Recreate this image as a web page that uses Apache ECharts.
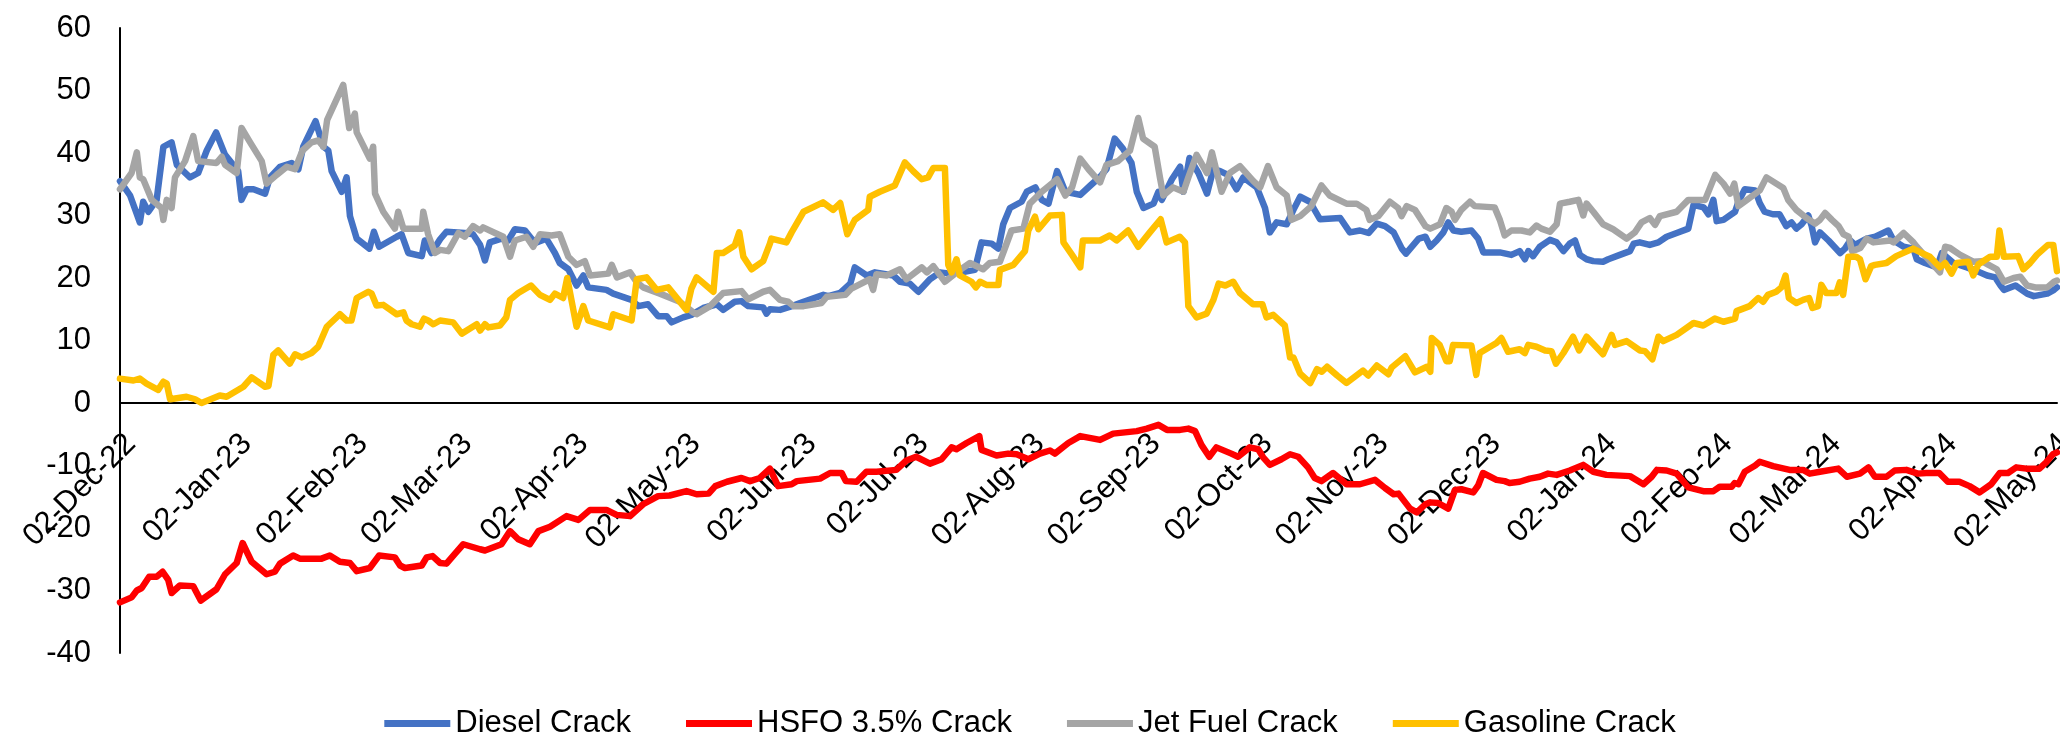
<!DOCTYPE html>
<html>
<head>
<meta charset="utf-8">
<script src="https://cdn.jsdelivr.net/npm/echarts@6.0.0/dist/echarts.min.js"></script>
<style>
html,body{margin:0;padding:0;background:#fff;}
#chart{width:2060px;height:734px;}
</style>
</head>
<body>
<div id="chart"></div>
<script>
// Day offsets counted from 02-Dec-22
const tickDays = [0,31,62,90,121,151,182,212,243,274,304,335,365,396,427,456,487,517];
const tickLabels = ['02-Dec-22','02-Jan-23','02-Feb-23','02-Mar-23','02-Apr-23','02-May-23','02-Jun-23','02-Jul-23','02-Aug-23','02-Sep-23','02-Oct-23','02-Nov-23','02-Dec-23','02-Jan-24','02-Feb-24','02-Mar-24','02-Apr-24','02-May-24'];
const lastDay = 518;

const dieselDays = [0,2.7,5.3,6.2,7.6,9.8,11.6,13.8,15.2,18.7,20.9,23.2,25.7,28.1,31.6,32.5,33.9,35.7,38.8,40.1,42.8,45.9,47.7,49.0,52.3,54.4,55.7,56.6,59.3,60.6,61.5,63.3,66.7,67.9,69.3,74.0,75.3,77.1,80.7,81.5,83.3,85.6,
87.3,92.2,94.4,96.3,97.6,98.9,102.0,103.8,105.6,108.3,110.0,111.4,114.0,116.3,117.6,119.9,122.1,123.9,125.2,130.1,131.9,136.8,138.6,141.2,143.9,146.2,147.5,150.6,152.8,156.0,159.6,161.3,164.4,166.2,168.0,172.0,172.9,173.8,
176.5,179.7,182.8,188.1,189.4,192.6,195.3,196.5,199.7,201.9,206.8,208.6,211.2,213.5,216.6,219.3,221.9,225.1,228.6,230.4,233.1,234.9,236.2,238.0,241.1,242.5,244.8,246.5,248.3,250.6,252.8,256.8,259.5,262.1,
263.8,266.0,268.2,270.5,271.9,273.7,276.4,277.7,278.6,281.3,283.5,284.4,286.0,288.4,290.7,292.4,294.2,296.3,298.6,300.4,304.0,306.2,307.5,309.3,312.0,313.8,315.6,318.2,320.9,326.3,328.9,331.6,333.9,336.1,338.3,340.6,342.8,343.9,347.3,349.1,350.4,
352.1,353.9,355.2,356.6,358.7,361.4,363.2,364.6,369.0,372.1,374.3,375.7,376.6,377.9,379.7,382.4,384.2,386.0,387.7,389.1,390.4,392.2,394.0,396.6,398.0,401.1,403.8,404.8,406.4,409.1,411.4,413.6,416.3,419.4,420.8,423.5,424.8,426.1,427.0,428.8,431.9,432.8,434.5,437.3,438.5,
439.8,442.0,443.8,445.6,447.0,448.3,449.7,451.5,452.4,453.3,454.6,456.9,460.0,461.3,462.7,464.0,467.1,469.4,472.9,474.3,477.0,479.6,480.5,482.7,485.9,487.2,490.3,493.9,496.6,499.3,501.5,502.9,503.8,506.9,510.0,511.8,515.4,517.2,518];
const dieselVals = [35.5,33.2,28.9,32.2,30.6,32.5,41.0,41.7,38.1,36.1,36.8,40.4,43.3,39.7,37.1,32.5,34.2,34.2,33.5,36.1,37.8,38.4,37.4,41.0,45.1,41.0,40.4,37.1,33.8,36.1,29.9,26.3,24.7,27.4,25.0,26.6,27.0,24.0,23.5,26.0,24.0,26.2,
27.4,27.2,27.0,25.3,22.8,25.7,26.3,26.0,27.8,27.6,26.3,25.7,26.3,24.0,22.4,21.4,18.8,20.4,18.5,18.1,17.5,16.5,15.5,15.8,13.9,13.9,12.9,13.7,14.1,15.2,15.8,14.9,16.2,16.3,15.5,15.3,14.3,15.0,
14.9,15.5,16.2,17.3,17.1,17.6,19.1,21.7,20.4,20.9,20.4,19.4,19.1,17.8,19.8,20.9,20.7,20.9,21.3,25.7,25.5,24.7,28.6,31.2,32.2,33.8,34.5,32.5,31.9,37.1,33.8,33.3,34.8,36.2,
37.4,42.3,40.7,38.4,33.8,31.2,31.9,33.8,32.5,35.8,37.8,33.8,39.2,36.8,33.5,37.4,37.1,36.5,34.2,36.1,34.5,31.2,27.3,28.9,28.6,30.9,33.0,32.2,29.4,29.6,27.3,27.6,27.2,28.7,28.3,27.3,24.7,23.9,26.3,26.6,25.0,
26.0,27.3,28.9,27.6,27.4,27.6,26.3,24.1,24.1,23.7,24.3,23.0,24.3,23.5,25.0,26.1,25.7,24.3,25.5,26.0,23.7,23.0,22.7,22.6,23.0,23.7,24.3,25.5,25.7,25.3,25.7,26.6,27.2,27.9,31.7,31.3,30.2,32.5,29.1,29.3,30.6,32.2,34.2,34.0,32.0,
30.6,30.2,30.2,28.3,28.9,27.9,28.6,30.0,28.3,25.7,27.3,26.0,24.0,24.7,26.0,25.3,26.3,26.6,27.6,26.0,25.0,24.7,23.0,22.4,21.7,24.0,22.4,21.7,21.1,20.4,20.1,18.8,18.1,18.8,17.5,17.1,17.5,18.1,18.5];

const hsfoDays = [0,3.1,4.5,5.8,7.8,9.8,11.4,12.9,13.8,16.0,19.6,21.6,25.8,28.1,31.2,32.8,33.9,35.2,39.2,41.4,42.8,46.3,48.1,53.9,56.1,58.8,61.5,63.3,66.8,69.3,73.5,74.9,76.2,80.7,82.0,83.6,85.6,
87.3,89.6,91.8,96.3,97.6,102.0,104.3,106.5,109.6,111.9,115.0,119.4,122.6,125.7,130.1,132.8,136.4,139.9,143.9,147.0,151.5,154.2,157.4,159.2,162.3,166.2,168.5,171.1,173.8,
176.0,179.6,181.0,187.2,189.9,193.0,194.1,197.0,199.6,202.3,207.6,210.3,212.9,216.6,219.7,222.4,223.7,226.4,229.8,230.4,234.4,237.5,239.8,242.9,246.0,248.7,250.0,253.6,256.8,262.1,
265.6,271.9,274.6,277.7,280.0,283.5,285.7,287.5,289.2,291.3,293.2,297.2,299.0,302.1,304.4,305.7,307.5,310.6,312.9,315.1,317.7,319.5,321.3,324.4,328.0,331.6,335.6,338.3,340.6,341.9,345.0,346.8,349.1,350.4,
352.5,355.2,357.0,358.7,361.9,363.2,364.5,368.1,370.3,371.6,374.3,377.0,379.7,381.9,384.2,387.7,391.3,394.0,397.5,403.8,407.4,409.6,411.0,413.6,416.3,419.4,423.4,426.1,427.8,431.0,431.8,432.8,434.5,437.3,438.5,
442.1,446.5,450.1,451.9,454.6,459.5,461.8,465.3,467.6,469.3,472.4,474.6,477.7,480.8,483.0,486.5,488.8,491.9,494.6,497.3,500.4,502.7,504.9,507.1,509.8,513.3,515.1,516.9,518];
const hsfoVals = [-31.9,-31.1,-30.0,-29.6,-27.8,-27.8,-27.0,-28.3,-30.4,-29.2,-29.3,-31.6,-29.8,-27.4,-25.6,-22.4,-23.8,-25.4,-27.4,-27.0,-25.7,-24.4,-24.9,-24.9,-24.4,-25.4,-25.6,-26.9,-26.4,-24.4,-24.7,-26.0,-26.4,-26.0,-24.7,-24.5,-25.6,
-25.7,-24.1,-22.6,-23.4,-23.6,-22.6,-20.5,-21.8,-22.6,-20.5,-19.8,-18.1,-18.7,-17.1,-17.1,-17.9,-18.1,-16.2,-14.9,-14.8,-14.1,-14.6,-14.5,-13.3,-12.6,-12.0,-12.5,-12.0,-10.5,
-13.3,-13.0,-12.5,-12.1,-11.2,-11.2,-12.5,-12.6,-11.0,-11.0,-10.7,-9.2,-8.6,-9.7,-9.0,-7.1,-7.4,-6.4,-5.3,-7.5,-8.4,-8.1,-8.2,-9.0,-8.1,-7.6,-8.1,-6.4,-5.3,-5.9,
-4.9,-4.5,-4.1,-3.5,-4.3,-4.3,-4.1,-4.5,-6.7,-8.6,-7.1,-8.1,-8.6,-7.1,-7.4,-8.7,-9.9,-9.0,-8.2,-8.6,-10.3,-12.0,-12.5,-11.2,-13.0,-13.0,-12.3,-13.6,-14.6,-14.5,-16.9,-17.5,-16.2,-15.9,
-16.0,-16.9,-13.9,-13.8,-14.3,-13.2,-11.2,-12.3,-12.5,-12.8,-12.6,-12.1,-11.8,-11.3,-11.5,-10.8,-9.9,-11.0,-11.5,-11.7,-13.0,-11.8,-10.7,-10.8,-11.3,-13.5,-14.1,-14.1,-13.4,-13.4,-12.8,-13.0,-11.0,-10.0,-9.4,
-10.1,-10.7,-10.7,-11.3,-11.0,-10.5,-11.8,-11.3,-10.3,-11.8,-11.8,-10.8,-10.7,-11.3,-11.2,-11.2,-12.6,-12.6,-13.3,-14.3,-13.0,-11.2,-11.2,-10.3,-10.5,-10.5,-9.5,-8.2,-7.9];

const jetDays = [0,3.1,4.5,5.3,6.2,8.5,11.1,11.6,12.5,13.8,14.7,17.4,19.6,20.9,25.8,27.2,28.1,31.2,32.5,34.8,37.9,39.2,41.9,44.6,46.8,48.8,51.2,53.0,54.4,55.4,59.7,61.3,62.8,63.3,66.8,67.7,68.2,70.4,73.5,74.4,75.8,80.7,81.1,82.4,84.2,85.6,
87.8,90.5,92.2,94.4,96.3,97.1,100.3,102.5,104.3,105.6,108.7,110.5,112.3,115.4,117.6,119.9,122.1,124.3,125.7,130.6,131.5,132.9,136.4,138.1,139.9,144.4,149.7,153.3,154.2,157.8,161.3,166.2,168.0,172.0,173.8,
176.5,178.7,180.1,182.8,187.6,189.0,194.0,195.6,200.5,201.4,202.3,205.0,208.6,210.3,214.4,215.8,217.5,220.6,223.7,227.3,230.8,232.6,235.3,238.4,241.6,243.3,246.5,250.6,252.8,254.6,256.8,259.0,262.1,
263.8,266.9,270.1,272.3,273.6,276.7,278.1,279.0,281.6,284.4,285.7,287.9,290.7,292.0,294.6,296.8,299.5,303.1,304.9,307.0,309.3,312.0,313.3,315.6,318.6,321.3,323.5,328.0,330.7,333.3,334.2,336.5,339.6,341.8,342.7,344.1,346.3,349.1,350.4,
353.0,354.7,356.1,357.0,358.7,361.0,362.3,367.6,369.0,370.3,372.1,374.8,377.0,378.8,380.1,382.4,384.2,385.1,387.7,390.0,391.3,392.2,394.0,396.6,399.3,402.9,405.1,406.9,409.1,410.5,411.8,416.3,419.4,423.9,426.6,428.8,430.6,431.7,432.8,435.1,438.5,
440.3,444.8,446.1,448.3,451.0,453.3,454.6,456.0,457.8,459.6,460.9,462.3,463.2,465.4,467.1,468.9,473.4,474.3,477.0,479.6,480.5,484.0,486.7,488.1,489.4,492.1,495.6,497.9,499.7,501.9,503.8,506.4,508.2,510.0,512.2,515.4,517.2,518];
const jetVals = [34.2,36.8,40.1,36.1,35.8,32.5,31.2,29.3,32.5,31.2,36.1,38.7,42.7,38.7,38.4,39.4,38.1,36.8,44.0,41.7,38.7,35.1,36.5,37.8,37.4,40.4,41.7,42.0,41.0,45.3,50.9,44.0,46.3,43.3,39.1,41.0,33.5,30.6,27.9,30.6,27.9,27.9,30.6,27.0,24.0,24.5,
24.3,27.2,26.6,28.3,27.6,28.1,27.2,26.6,23.4,26.0,26.6,25.0,27.0,26.8,27.0,23.4,22.1,22.7,20.4,20.7,22.1,20.1,20.9,19.4,18.5,17.5,16.2,14.5,14.2,15.5,17.6,17.9,16.6,17.8,18.1,
16.5,16.2,15.5,15.5,16.0,17.0,17.3,18.3,19.8,18.1,20.6,20.4,21.4,19.8,21.7,20.9,21.9,19.4,20.9,22.4,21.4,22.4,22.6,27.6,27.9,31.9,33.8,35.8,33.2,34.5,39.1,37.4,35.3,
38.1,38.7,40.4,45.6,42.3,41.0,36.1,33.2,34.5,33.8,36.1,39.7,36.8,40.1,33.8,36.8,37.9,35.5,34.5,37.9,34.5,33.2,29.3,29.9,31.5,34.8,33.2,31.9,31.9,30.9,29.3,29.9,32.2,31.2,29.9,31.5,30.9,28.3,27.9,
28.6,31.2,30.6,29.3,30.9,32.2,31.5,31.3,29.3,26.8,27.6,27.6,27.3,28.4,27.9,27.4,28.6,31.9,32.2,32.5,30.0,31.9,30.6,28.6,27.8,26.3,27.3,28.9,29.6,28.5,29.9,30.6,32.5,32.5,36.5,35.1,33.5,35.1,31.5,32.5,34.0,
36.1,34.4,32.5,30.9,29.6,28.7,29.3,30.4,29.3,28.3,27.0,26.6,24.3,24.8,26.3,25.7,26.0,25.7,27.2,25.7,25.0,22.7,20.9,25.0,24.8,23.7,22.6,22.7,22.1,21.4,19.4,20.0,20.2,18.8,18.5,18.5,19.4,19.6];

const gasDays = [0,3.6,5.3,7.1,10.2,11.6,12.5,13.4,17.8,20.1,21.8,26.7,28.5,33.0,35.2,38.8,39.7,41.0,42.3,45.4,46.8,48.6,51.2,53.0,55.3,58.8,60.6,61.9,63.3,66.4,67.3,68.6,70.4,74.0,75.8,76.6,78.0,80.2,81.3,82.4,83.8,85.6,
89.1,91.4,95.4,96.3,97.6,98.5,101.6,103.3,104.3,106.5,109.9,112.3,115.0,116.3,118.5,119.6,122.1,123.9,125.2,131.0,131.9,136.8,138.2,140.8,143.5,146.6,151.5,152.8,154.2,158.7,159.6,161.3,164.4,165.6,166.7,168.9,172.0,173.8,
174.2,178.2,179.6,182.8,188.0,190.7,192.6,194.5,196.5,200.1,200.5,203.2,207.2,209.9,212.1,214.4,216.1,217.5,220.6,221.5,222.4,223.7,224.6,227.7,228.9,230.0,231.7,234.9,235.3,238.9,242.0,242.9,244.7,245.6,248.7,251.9,252.3,254.6,256.8,257.5,262.1,
264.7,266.5,269.6,272.3,275.4,278.3,279.9,283.4,284.8,285.7,287.9,290.6,292.4,293.8,295.6,297.7,299.5,303.0,305.5,306.6,308.4,311.5,312.9,313.8,315.6,318.3,320.1,321.4,322.8,325.5,328.0,332.4,333.8,336.1,339.2,340.1,343.7,346.3,349.5,350.4,350.8,
352.9,354.7,355.6,356.5,361.4,362.7,363.6,368.1,369.4,371.2,374.3,375.7,376.6,378.8,381.1,382.8,384.0,386.0,388.6,390.2,392.2,396.6,398.9,399.8,402.9,406.5,407.8,409.8,411.4,412.7,416.3,420.8,423.4,426.5,428.8,431.9,432.3,435.8,438.1,
439.4,440.7,442.9,444.3,445.4,446.3,448.3,450.1,451.7,452.6,454.1,455.0,456.3,459.0,459.9,460.8,462.2,464.3,465.3,466.8,468.3,469.3,472.4,475.0,479.5,482.2,484.0,486.7,488.1,489.8,491.2,494.3,495.6,497.0,500.1,501.9,502.6,503.8,507.6,509.0,510.8,512.6,515.6,517.0,518];
const gasVals = [3.9,3.6,3.9,3.1,2.1,3.4,3.1,0.6,1.0,0.6,0.0,1.2,1.0,2.6,4.1,2.6,2.7,7.7,8.4,6.3,7.8,7.3,8.0,9.0,12.2,14.2,13.2,13.2,16.8,17.8,17.5,15.6,15.7,14.2,14.5,13.2,12.6,12.2,13.5,13.2,12.6,13.2,
12.9,11.1,12.6,11.6,12.6,12.1,12.4,13.7,16.5,17.6,18.8,17.3,16.5,17.5,16.8,20.0,12.2,15.5,13.2,12.1,14.2,13.2,19.8,20.1,18.1,18.5,14.9,18.3,20.1,17.8,24.0,24.0,25.2,27.3,23.4,21.4,22.7,25.5,
26.3,25.7,27.3,30.6,32.1,30.9,32.0,27.0,29.3,30.9,33.0,33.8,34.8,38.5,37.1,35.8,36.1,37.6,37.6,22.1,20.9,23.0,20.4,19.4,18.5,19.4,18.9,18.9,21.3,22.1,24.3,27.6,29.8,27.8,30.0,30.1,25.7,23.7,21.7,26.0,26.0,
26.8,26.0,27.6,25.0,27.3,29.4,25.7,26.6,25.7,15.5,13.7,14.3,16.5,19.1,18.8,19.4,17.6,15.8,15.8,13.7,14.1,12.4,7.3,7.3,4.7,3.2,5.4,5.0,5.8,4.4,3.2,5.2,4.4,6.0,4.6,5.7,7.5,4.9,5.8,5.0,10.4,
9.3,6.7,6.7,9.3,9.2,4.5,8.0,9.6,10.4,8.2,8.6,8.0,9.3,9.0,8.4,8.3,6.3,8.0,10.6,8.4,10.6,7.8,10.9,9.3,9.9,8.4,8.3,7.0,10.6,9.9,10.9,12.8,12.4,13.5,13.0,13.5,14.7,15.5,16.8,
16.2,17.3,17.8,18.5,20.4,16.8,16.0,16.5,16.8,15.2,15.5,18.9,17.6,17.6,19.3,17.3,23.4,23.4,23.0,19.8,21.9,22.1,22.4,23.5,24.7,23.9,23.4,21.7,22.4,20.7,22.4,22.6,20.4,22.2,23.4,23.4,27.6,23.4,23.5,21.4,22.4,23.7,25.3,25.3,21.1];

const seriesNames = ['Diesel Crack','HSFO 3.5% Crack','Jet Fuel Crack','Gasoline Crack'];
const seriesColors = ['#4472C4','#FF0000','#A5A5A5','#FFC000'];

function pairs(days, vals){ return days.map((d,i)=>[Math.min(d,lastDay), vals[i]]); }
const seriesData = [pairs(dieselDays,dieselVals), pairs(hsfoDays,hsfoVals), pairs(jetDays,jetVals), pairs(gasDays,gasVals)];

const FONT = "'Liberation Sans', Arial, sans-serif";
const GRID_TOP = 28, GRID_BOTTOM = 81, Y_MIN = -40, Y_MAX = 60;
const plotH = 734 - GRID_TOP - GRID_BOTTOM;
const zeroOffset = -plotH * (0 - Y_MIN) / (Y_MAX - Y_MIN); // move x axis up to the zero line

const chart = echarts.init(document.getElementById('chart'), null, {renderer:'canvas'});
chart.setOption({
  animation:false,
  backgroundColor:'#ffffff',
  grid:{left:120,right:3,top:GRID_TOP,bottom:GRID_BOTTOM,containLabel:false,outerBoundsMode:'none'},
  legend:{
    data:seriesNames,
    top:703,
    left:'center',
    icon:'rect',
    itemWidth:66,
    itemHeight:7,
    itemGap:55,
    textStyle:{fontFamily:FONT,fontSize:31,color:'#000'}
  },
  xAxis:{
    type:'value',
    position:'bottom',
    offset:zeroOffset,
    min:0,
    max:lastDay,
    axisLine:{show:true,onZero:false,lineStyle:{color:'#000',width:2}},
    axisTick:{show:false},
    splitLine:{show:false},
    axisLabel:{
      customValues:tickDays,
      rotate:45,
      align:'right',
      verticalAlign:'top',
      margin:25,
      fontFamily:FONT,
      fontSize:31,
      color:'#000',
      formatter:function(v){ const i=tickDays.indexOf(Math.round(v)); return i>=0?tickLabels[i]:''; }
    }
  },
  yAxis:{
    type:'value',
    min:Y_MIN,
    max:Y_MAX,
    interval:10,
    axisLine:{show:true,lineStyle:{color:'#000',width:2}},
    axisTick:{show:false},
    splitLine:{show:false},
    axisLabel:{margin:29,fontFamily:FONT,fontSize:31,color:'#000'}
  },
  series:seriesNames.map((n,i)=>({
    name:n,
    type:'line',
    data:seriesData[i],
    showSymbol:false,
    symbol:'none',
    color:seriesColors[i],
    lineStyle:{color:seriesColors[i],width:6.5,cap:'round',join:'round'},
    emphasis:{disabled:true}
  }))
});
</script>
</body>
</html>
